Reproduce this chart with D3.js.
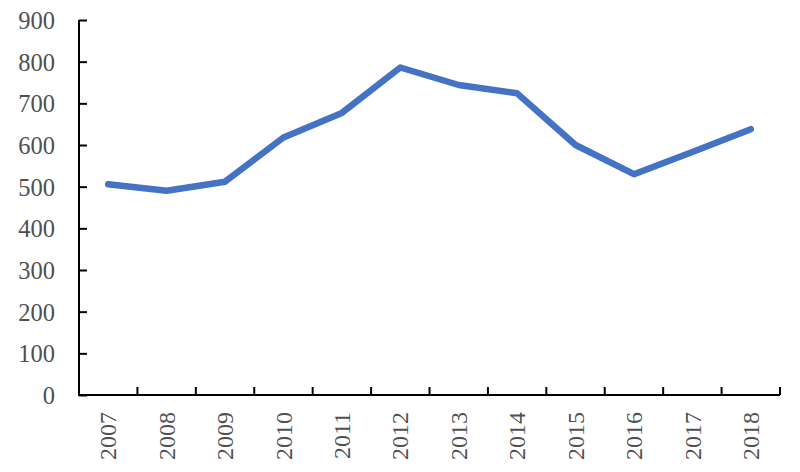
<!DOCTYPE html>
<html><head><meta charset="utf-8">
<script src="https://cdn.jsdelivr.net/npm/d3@7"></script>
<style>body{margin:0;background:#fff}svg{display:block}</style>
</head><body>
<svg id="c" width="800" height="472"></svg>
<script>
const years = ["2007","2008","2009","2010","2011","2012","2013","2014","2015","2016","2017","2018"];
const values = [506, 490, 512, 618, 677, 786, 744, 724, 600, 530, 583, 638];
const yTicks = [0,100,200,300,400,500,600,700,800,900];

const svg = d3.select("#c");
const mL = 79, mR = 780, mT = 20, mB = 395;
const x = d3.scaleBand().domain(years).range([mL, mR]);
const y = d3.scaleLinear().domain([0, 900]).range([mB, mT]);
const font = "'Liberation Serif','Times New Roman',serif";
const txt = "#505050";

// line
svg.append("path")
  .datum(values)
  .attr("fill","none")
  .attr("stroke","#4472C4")
  .attr("stroke-width",6.5)
  .attr("stroke-linejoin","round")
  .attr("stroke-linecap","round")
  .attr("d", d3.line().x((d,i)=>x(years[i])+x.bandwidth()/2).y(d=>y(d)));

// y axis
const ya = svg.append("g").attr("transform",`translate(${mL},0)`)
  .call(d3.axisLeft(y).tickValues(yTicks).tickSize(-8).tickPadding(0).tickFormat(d3.format("d")));
ya.select(".domain").attr("stroke","#000").attr("stroke-width",2).attr("d",`M0,${mT}V${mB}`);
ya.selectAll(".tick line").attr("stroke","#000").attr("stroke-width",2);
ya.selectAll(".tick text").attr("x",-24).attr("dy","0.34em").attr("fill",txt).style("font-family",font).style("font-size","24.5px");

// x axis
const xa = svg.append("g").attr("transform",`translate(0,${mB})`);
xa.append("line").attr("x1",mL-1).attr("x2",mR).attr("stroke","#000").attr("stroke-width",2);
const bounds = years.map(d=>x(d)+x.bandwidth());
xa.selectAll("line.t").data(bounds).enter().append("line").attr("class","t")
  .attr("x1",d=>d).attr("x2",d=>d).attr("y1",0).attr("y2",-8).attr("stroke","#000").attr("stroke-width",2);
xa.selectAll("text").data(years).enter().append("text")
  .attr("transform",d=>`translate(${x(d)+x.bandwidth()/2},17) rotate(-90)`)
  .attr("text-anchor","end").attr("dy","0.34em")
  .attr("fill",txt).style("font-family",font).style("font-size","24px")
  .text(d=>d);
</script>
</body></html>
